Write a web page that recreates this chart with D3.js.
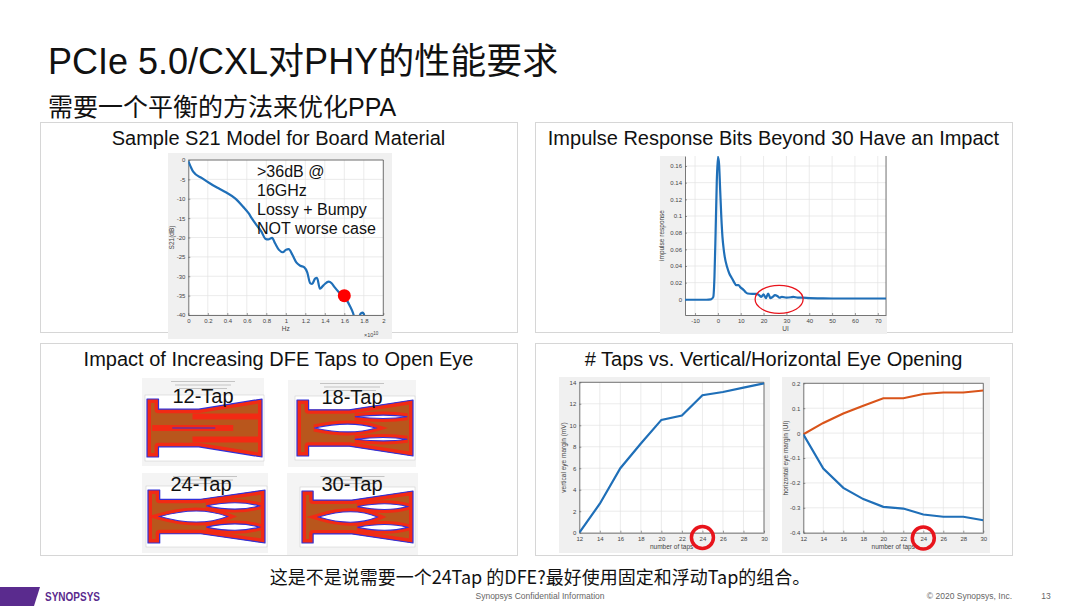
<!DOCTYPE html>
<html>
<head>
<meta charset="utf-8">
<script src="https://cdn.jsdelivr.net/npm/d3@7"></script>
<style>body{margin:0;background:#fff}</style>
</head>
<body>
<div id="canvas"></div>
<script>
const width = 1080;
const height = 608;
const FONT = "'Liberation Sans', Arial, 'Noto Sans CJK SC', sans-serif";
const CJK = "'Liberation Sans', 'Noto Sans CJK SC', sans-serif";

// ---- texts
const slideTitle = "PCIe 5.0/CXL对PHY的性能要求";
const slideSubtitle = "需要一个平衡的方法来优化PPA";
const panelTitles = [
    "Sample S21 Model for Board Material",
    "Impulse Response Bits Beyond 30 Have an Impact",
    "Impact of Increasing DFE Taps to Open Eye",
    "# Taps vs. Vertical/Horizontal Eye Opening"
];
const s21Note = [">36dB @", "16GHz", "Lossy + Bumpy", "NOT worse case"];
const footerQuestion = "这是不是说需要一个24Tap 的DFE?最好使用固定和浮动Tap的组合。";

// ---- S21 (frequency in 1e10 Hz, dB)
const s21Freq = [0, 0.024, 0.05, 0.14, 0.22, 0.31, 0.39, 0.48, 0.56, 0.62, 0.65, 0.7, 0.75, 0.79, 0.82, 0.86, 0.89, 0.93, 0.97, 1.0, 1.03, 1.07, 1.11, 1.15, 1.19, 1.22, 1.25, 1.27, 1.3, 1.32, 1.35, 1.37, 1.4, 1.44, 1.47, 1.5, 1.54, 1.58, 1.62, 1.66, 1.69, 1.71, 1.74, 1.77, 1.79, 1.81];
const s21dB = [-0.3, -1.7, -3, -4.7, -6, -7.3, -8.4, -9.9, -12, -13.8, -15, -16.8, -18.5, -20.3, -20.5, -20.1, -21.5, -23.2, -23.8, -23.2, -23, -24.6, -26.5, -27.3, -27.7, -29, -31.8, -32, -30.6, -30.4, -33.2, -32.8, -32, -31.4, -31.8, -32.8, -34, -35, -36, -37.8, -39.5, -41, -41, -39.6, -39.4, -40.5];
const s21Mark = [1.6, -35];
const s21XTicks = [0, 0.2, 0.4, 0.6, 0.8, 1, 1.2, 1.4, 1.6, 1.8, 2];
const s21YTicks = [0, -5, -10, -15, -20, -25, -30, -35, -40];

// ---- impulse response
const impUI = [-14.4, -10, -5, -3, -2, -1.5, -1, -0.5, 0, 0.5, 1, 1.5, 2, 2.5, 3, 4, 5, 6, 7, 8, 9, 10, 11, 12, 13, 15, 17, 18, 19, 20, 21, 22, 23, 24, 25, 26, 27, 28, 30, 32, 33, 35, 37, 40, 45, 50, 60, 73.6];
const impResp = [-0.0005, -0.0005, -0.0005, 0, 0.003, 0.027, 0.08, 0.14, 0.171, 0.163, 0.131, 0.099, 0.075, 0.061, 0.051, 0.039, 0.031, 0.026, 0.021, 0.017, 0.017, 0.014, 0.012, 0.009, 0.007, 0.0065, 0.0065, 0.005, 0.003, 0.006, 0.0015, 0.007, 0.0015, 0.003, 0.005, 0.004, 0.002, 0.003, 0.002, 0.0025, 0.003, 0.002, 0.002, 0.0015, 0.0012, 0.001, 0.001, 0.001];
const impFocusUI = 26.8;
const impXTicks = [-10, 0, 10, 20, 30, 40, 50, 60, 70];
const impYTicks = [0, 0.02, 0.04, 0.06, 0.08, 0.1, 0.12, 0.14, 0.16];

// ---- taps vs eye opening
const taps = [12, 14, 16, 18, 20, 22, 24, 26, 28, 30];
const vertMargin = [0, 2.7, 6, 8.3, 10.5, 10.9, 12.8, 13.1, 13.5, 13.9];
const horizUpper = [-0.005, 0.041, 0.079, 0.11, 0.14, 0.14, 0.157, 0.163, 0.163, 0.171];
const horizLower = [-0.005, -0.142, -0.22, -0.265, -0.296, -0.303, -0.327, -0.336, -0.336, -0.35];
const tapHighlight = 24;
const vertTicks = [0, 2, 4, 6, 8, 10, 12, 14];
const horizTicks = [-0.4, -0.3, -0.2, -0.1, 0, 0.1, 0.2];

// ---- DFE eye diagrams
const eyeLabels = ["12-Tap", "18-Tap", "24-Tap", "30-Tap"];
const eyeCenterOpen = [0, 0.14, 0.21, 0.2];
const eyeSideOpen = [0, 0.06, 0.12, 0.11];

const BLUE = "#1f6fb8";
const ORANGE = "#d9541a";
const RED = "#e8141c";

const svg = d3.select("#canvas")
    .append("svg")
    .attr("width", width)
    .attr("height", height)
    .style("background-color", "#fff");

const defs = svg.append("defs");

// slide header
svg.append("text").attr("x", 48).attr("y", 74)
    .attr("font-family", CJK).attr("font-size", 36).attr("fill", "#111")
    .text(slideTitle);
svg.append("text").attr("x", 48).attr("y", 116)
    .attr("font-family", CJK).attr("font-size", 25).attr("fill", "#111")
    .text(slideSubtitle);

// panel frames
const panels = [
    {x: 40, y: 122, w: 477, h: 210},
    {x: 535, y: 122, w: 477, h: 210},
    {x: 40, y: 343, w: 477, h: 212},
    {x: 535, y: 343, w: 477, h: 212}
];
svg.selectAll(".panel").data(panels).join("rect")
    .attr("class", "panel")
    .attr("x", d => d.x + 0.5).attr("y", d => d.y + 0.5)
    .attr("width", d => d.w).attr("height", d => d.h)
    .attr("fill", "#fff").attr("stroke", "#d6d6d6").attr("stroke-width", 1);
svg.selectAll(".ptitle").data(panelTitles).join("text")
    .attr("class", "ptitle")
    .attr("x", (d, i) => panels[i].x + panels[i].w / 2)
    .attr("y", (d, i) => panels[i].y + 23)
    .attr("text-anchor", "middle")
    .attr("font-family", FONT).attr("font-size", 20).attr("fill", "#111")
    .text(d => d);

// MATLAB-like axes
function matlabAxes(x, y, xt, yt, opts) {
    const g = svg.append("g");
    const [L, R] = x.range();
    const [B, T] = y.range();
    g.append("rect").attr("x", opts.bg[0]).attr("y", opts.bg[1])
        .attr("width", opts.bg[2] - opts.bg[0]).attr("height", opts.bg[3] - opts.bg[1])
        .attr("fill", "#f0f0f0");
    g.append("rect").attr("x", L).attr("y", T).attr("width", R - L).attr("height", B - T).attr("fill", "#fff");
    g.append("g").selectAll("line").data(xt).join("line")
        .attr("x1", d => x(d)).attr("x2", d => x(d)).attr("y1", T).attr("y2", B)
        .attr("stroke", "#e2e2e2").attr("stroke-width", 0.7);
    g.append("g").selectAll("line").data(yt).join("line")
        .attr("x1", L).attr("x2", R).attr("y1", d => y(d)).attr("y2", d => y(d))
        .attr("stroke", "#e2e2e2").attr("stroke-width", 0.7);
    const ax = g.append("g").attr("transform", `translate(0,${B})`)
        .call(d3.axisBottom(x).tickValues(xt).tickFormat(d => String(d)).tickSizeInner(-2).tickSizeOuter(0).tickPadding(4));
    const ay = g.append("g").attr("transform", `translate(${L},0)`)
        .call(d3.axisLeft(y).tickValues(yt).tickFormat(d => String(d)).tickSizeInner(-2).tickSizeOuter(0).tickPadding(3));
    [ax, ay].forEach(a => {
        a.select(".domain").attr("stroke", "#555").attr("stroke-width", 0.8);
        a.selectAll(".tick line").attr("stroke", "#555").attr("stroke-width", 0.6);
        a.selectAll("text").attr("font-size", 6).attr("fill", "#444").attr("font-family", FONT);
    });
    g.append("line").attr("x1", R).attr("x2", R).attr("y1", T).attr("y2", B).attr("stroke", "#555").attr("stroke-width", 0.8);
    if (opts.top) {
        g.append("line").attr("x1", L).attr("x2", R).attr("y1", T).attr("y2", T).attr("stroke", "#555").attr("stroke-width", 0.8);
    }
    g.append("text").attr("x", (L + R) / 2).attr("y", B + 16)
        .attr("text-anchor", "middle").attr("font-family", FONT).attr("font-size", 6.5).attr("fill", "#444")
        .text(opts.xLabel);
    g.append("text")
        .attr("transform", `translate(${opts.yLabelX},${(T + B) / 2}) rotate(-90)`)
        .attr("text-anchor", "middle").attr("font-family", FONT).attr("font-size", 6.5).attr("fill", "#444")
        .text(opts.yLabel);
    const id = "clip" + Math.round(L) + "_" + Math.round(T);
    defs.append("clipPath").attr("id", id).append("rect")
        .attr("x", L).attr("y", T).attr("width", R - L).attr("height", B - T);
    return g.append("g").attr("clip-path", `url(#${id})`);
}

// ---- panel 1: S21
const xS = d3.scaleLinear([0, 2], [188.3, 383.3]);
const yS = d3.scaleLinear([-40, 0], [315, 160]);
const plotS = matlabAxes(xS, yS, s21XTicks, s21YTicks,
    {bg: [168, 153, 392, 339], top: true, xLabel: "Hz", yLabel: "S21(dB)", yLabelX: 174});
plotS.append("path")
    .attr("d", d3.line().curve(d3.curveMonotoneX)(s21Freq.map((f, i) => [xS(f), yS(s21dB[i])])))
    .attr("fill", "none").attr("stroke", BLUE).attr("stroke-width", 2.2);
svg.append("circle").attr("cx", xS(s21Mark[0])).attr("cy", yS(s21Mark[1])).attr("r", 6.5).attr("fill", "#ff0000");
svg.append("text").attr("x", 364).attr("y", 337).attr("font-family", FONT).attr("font-size", 5.5).attr("fill", "#444")
    .text("×10").append("tspan").attr("dy", -2.5).attr("font-size", 4.5).text("10");
svg.append("g").selectAll("text").data(s21Note).join("text")
    .attr("x", 257).attr("y", (d, i) => 177 + i * 19)
    .attr("font-family", FONT).attr("font-size", 16).attr("fill", "#111")
    .text(d => d);

// ---- panel 2: impulse response
const xI = d3.scaleLinear([-14.4, 73.6], [685, 886]);
const yI = d3.scaleLinear([-0.0188, 0.172], [315, 156]);
const plotI = matlabAxes(xI, yI, impXTicks, impYTicks,
    {bg: [660, 156, 887, 334], top: false, xLabel: "UI", yLabel: "impulse response", yLabelX: 664});
plotI.append("path")
    .attr("d", d3.line().curve(d3.curveMonotoneX)(impUI.map((u, i) => [xI(u), yI(impResp[i])])))
    .attr("fill", "none").attr("stroke", BLUE).attr("stroke-width", 2.2);
svg.append("ellipse").attr("cx", xI(impFocusUI)).attr("cy", yI(0)).attr("rx", 24).attr("ry", 14)
    .attr("fill", "none").attr("stroke", RED).attr("stroke-width", 1.3);

// ---- panel 4: taps vs opening
const xV = d3.scaleLinear([12, 30], [579.3, 764]);
const yV = d3.scaleLinear([0, 14], [532.7, 382.3]);
const plotV = matlabAxes(xV, yV, taps, vertTicks,
    {bg: [559, 377, 770, 553], top: true, xLabel: "number of taps", yLabel: "vertical eye margin (mV)", yLabelX: 566});
plotV.append("path")
    .attr("d", d3.line()(taps.map((t, i) => [xV(t), yV(vertMargin[i])])))
    .attr("fill", "none").attr("stroke", BLUE).attr("stroke-width", 2.2);

const xH = d3.scaleLinear([12, 30], [803.3, 983.3]);
const yH = d3.scaleLinear([-0.4, 0.2], [532.7, 383.3]);
const plotH = matlabAxes(xH, yH, taps, horizTicks,
    {bg: [782, 377, 990, 553], top: true, xLabel: "number of taps", yLabel: "horizontal eye margin (UI)", yLabelX: 788});
plotH.append("path")
    .attr("d", d3.line()(taps.map((t, i) => [xH(t), yH(horizUpper[i])])))
    .attr("fill", "none").attr("stroke", ORANGE).attr("stroke-width", 2.2);
plotH.append("path")
    .attr("d", d3.line()(taps.map((t, i) => [xH(t), yH(horizLower[i])])))
    .attr("fill", "none").attr("stroke", BLUE).attr("stroke-width", 2.2);

svg.append("circle").attr("cx", xV(tapHighlight)).attr("cy", 537.5).attr("r", 11)
    .attr("fill", "none").attr("stroke", RED).attr("stroke-width", 3.5);
svg.append("circle").attr("cx", xH(tapHighlight)).attr("cy", 538).attr("r", 11)
    .attr("fill", "none").attr("stroke", RED).attr("stroke-width", 3.5);

// ---- panel 3: eye diagrams
const eyeBoxes = [
    {img: [142, 378, 264, 466], shape: [147, 399, 262, 457], label: [203, 403]},
    {img: [288, 380, 416, 467], shape: [297, 400, 413, 456], label: [352, 404]},
    {img: [142, 473, 268, 553], shape: [148, 490, 265, 543], label: [201, 491]},
    {img: [287, 473, 418, 555], shape: [302, 491, 413, 543], label: [352, 491]}
];
const outline = [[0, 1], [0.1, 1], [0.1, 0.65], [0.45, 0.65], [1, 1], [1, -1], [0.45, -0.65], [0.1, -0.65], [0.1, -1], [0, -1]];

eyeLabels.forEach((lab, i) => {
    const b = eyeBoxes[i];
    const g = svg.append("g");
    g.append("rect").attr("x", b.img[0]).attr("y", b.img[1])
        .attr("width", b.img[2] - b.img[0]).attr("height", b.img[3] - b.img[1]).attr("fill", "#f4f4f4");
    g.append("rect").attr("x", b.shape[0] - 2).attr("y", b.shape[1] - 4)
        .attr("width", b.shape[2] - b.shape[0] + 4).attr("height", b.shape[3] - b.shape[1] + 8)
        .attr("fill", "#fff").attr("stroke", "#c8c8c8").attr("stroke-width", 0.5);
    // faint title lines of the plot image
    [0, 1, 2].forEach(k => {
        g.append("rect").attr("x", (b.img[0] + b.img[2]) / 2 - 32 + k * 4).attr("y", b.img[1] + 3 + k * 3.5)
            .attr("width", 64 - k * 8).attr("height", 1).attr("fill", "#c4c4c4");
    });
    const ex = d3.scaleLinear([0, 1], [b.shape[0], b.shape[2]]);
    const ey = d3.scaleLinear([-1, 1], [b.shape[3], b.shape[1]]);
    const shapePath = d3.line().x(d => ex(d[0])).y(d => ey(d[1])).curve(d3.curveLinearClosed)(outline);
    const cid = "eyeclip" + i;
    defs.append("clipPath").attr("id", cid).append("path").attr("d", shapePath);
    g.append("path").attr("d", shapePath).attr("fill", "#b9561c");
    const inner = g.append("g").attr("clip-path", `url(#${cid})`);
    inner.append("path").attr("d", shapePath).attr("fill", "none").attr("stroke", "#f22a14").attr("stroke-width", 8).attr("stroke-linejoin", "round");

    const eyes = [
        {t0: i === 2 ? 0.1 : 0.15, t1: 0.68, c: 0, h: eyeCenterOpen[i], center: true},
        {t0: 0.5, t1: 0.95, c: 0.4, h: eyeSideOpen[i], center: false},
        {t0: 0.5, t1: 0.95, c: -0.4, h: eyeSideOpen[i], center: false}
    ];
    eyes.forEach(e => {
        const x0 = ex(e.t0), x1 = ex(e.t1), xm = ex(e.t0 + (e.t1 - e.t0) * 0.58);
        const cy = ey(e.c);
        const hp = Math.abs(ey(e.h) - ey(0));
        if (hp > 0.5) {
            const lens = `M${x0},${cy}Q${xm},${cy - 2 * hp} ${x1},${cy}Q${xm},${cy + 2 * hp} ${x0},${cy}Z`;
            inner.append("path").attr("d", lens).attr("fill", "none").attr("stroke", "#f22a14").attr("stroke-width", 7);
            g.append("path").attr("d", lens).attr("fill", "#fff").attr("stroke", "#3030d8").attr("stroke-width", 1.1);
        } else {
            inner.append("line").attr("x1", x0 - 12).attr("x2", x1 + 8).attr("y1", cy).attr("y2", cy)
                .attr("stroke", "#f22a14").attr("stroke-width", 6);
            if (e.center) {
                inner.append("line").attr("x1", x0 + 8).attr("x2", x1 - 10).attr("y1", cy).attr("y2", cy)
                    .attr("stroke", "#3030d8").attr("stroke-width", 1.1);
            }
        }
    });
    g.append("path").attr("d", shapePath).attr("fill", "none").attr("stroke", "#3030d8")
        .attr("stroke-width", 1.2).attr("stroke-linejoin", "round");
    g.append("text").attr("x", b.label[0]).attr("y", b.label[1]).attr("text-anchor", "middle")
        .attr("font-family", FONT).attr("font-size", 20).attr("fill", "#111").text(lab);
});

// ---- footer
svg.append("text").attr("x", 540).attr("y", 584).attr("text-anchor", "middle")
    .attr("font-family", "'Liberation Sans Narrow', 'Noto Sans CJK SC', sans-serif").attr("font-size", 18).attr("fill", "#111")
    .text(footerQuestion);
svg.append("polygon").attr("points", "0,587 40,587 34,606 0,606").attr("fill", "#5a2b8e");
svg.append("text").attr("x", 45).attr("y", 601)
    .attr("font-family", "'Liberation Sans Narrow', 'Liberation Sans', sans-serif").attr("font-weight", "bold")
    .attr("font-size", 12).attr("fill", "#5a2b8e").attr("textLength", 55).attr("lengthAdjust", "spacingAndGlyphs")
    .text("SYNOPSYS");
svg.append("text").attr("x", 540).attr("y", 599).attr("text-anchor", "middle")
    .attr("font-family", FONT).attr("font-size", 8.5).attr("fill", "#666").text("Synopsys Confidential Information");
svg.append("text").attr("x", 1012).attr("y", 599).attr("text-anchor", "end")
    .attr("font-family", FONT).attr("font-size", 8.5).attr("fill", "#666").text("© 2020 Synopsys, Inc.");
svg.append("text").attr("x", 1046).attr("y", 599).attr("text-anchor", "middle")
    .attr("font-family", FONT).attr("font-size", 8.5).attr("fill", "#666").text("13");
</script>
</body>
</html>
